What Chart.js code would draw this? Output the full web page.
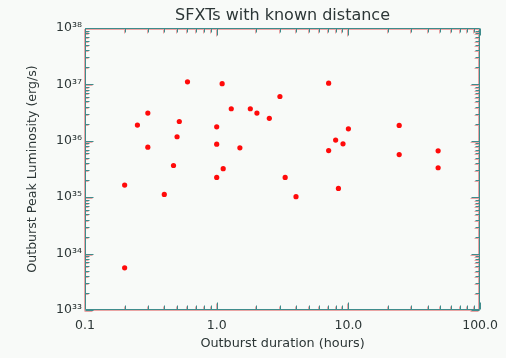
<!DOCTYPE html>
<html>
<head>
<meta charset="utf-8">
<script src="https://cdn.jsdelivr.net/npm/chart.js@4.4.0/dist/chart.umd.min.js"></script>
<style>
  html, body { margin: 0; padding: 0; background: #f8faf8; }
  #wrap { width: 506px; height: 358px; }
</style>
</head>
<body>
<div id="wrap"><canvas id="c" width="506" height="358"></canvas></div>
<script>
// ---- data ----
const durations = [0.60, 1.10, 3.02, 0.30, 1.29, 1.80, 2.02, 2.51, 0.25, 0.52, 1.00, 0.50, 1.00, 0.30, 1.50, 0.47, 1.12, 1.00, 3.31, 0.20, 0.40, 4.00, 7.08, 10.0, 24.3, 8.0, 9.1, 7.08, 24.3, 48.0, 48.0, 8.4, 0.20];
const luminosities = [1.11e37, 1.03e37, 6.1e36, 3.1e36, 3.7e36, 3.7e36, 3.1e36, 2.5e36, 1.9e36, 2.2e36, 1.77e36, 1.18e36, 8.7e35, 7.7e35, 7.5e35, 3.65e35, 3.2e35, 2.24e35, 2.24e35, 1.64e35, 1.12e35, 1.02e35, 1.05e37, 1.63e36, 1.87e36, 1.03e36, 8.85e35, 6.7e35, 5.7e35, 6.65e35, 3.33e35, 1.43e35, 5.6e33];
const xTickValues = [0.1, 1, 10, 100];
const xTickLabels = ['0.1', '1.0', '10.0', '100.0'];
const yTickValues = [1e33, 1e34, 1e35, 1e36, 1e37, 1e38];
const yTickLabels = ['10³³', '10³⁴', '10³⁵', '10³⁶', '10³⁷', '10³⁸'];
const titleText = 'SFXTs with known distance';
const xTitle = 'Outburst duration (hours)';
const yTitle = 'Outburst Peak Luminosity (erg/s)';

const axisColor = '#3f8c8c';
const shadowColor = '#eaa4a4';
const textColor = '#2c3636';
const fam = "'DejaVu Sans', sans-serif";

// inward IDL-style ticks on all four sides, positioned by the chart's scales
const idlTicks = {
  id: 'idlTicks',
  afterDraw(chart) {
    const { ctx, chartArea: { left, right, top, bottom }, scales: { x, y } } = chart;
    const minorVals = (min, max) => {
      const out = [];
      for (let e = Math.floor(Math.log10(min)); e <= Math.ceil(Math.log10(max)); e++) {
        for (let s = 1; s <= 9; s++) {
          const v = s * Math.pow(10, e);
          if (v >= min * 0.999999 && v <= max * 1.000001) out.push({ v, major: s === 1 });
        }
      }
      return out;
    };
    const L = Math.round(left) + 0.5, R = Math.round(right) - 0.5;
    const T = Math.round(top) + 0.5, B = Math.round(bottom) - 0.5;
    const buildPath = () => {
      ctx.beginPath();
      ctx.rect(L, T, R - L, B - T);
      for (const t of minorVals(x.min, x.max)) {
        const px = Math.round(x.getPixelForValue(t.v)) + 0.5;
        const len = t.major ? 7 : 4;
        ctx.moveTo(px, B); ctx.lineTo(px, B - len);
        ctx.moveTo(px, T); ctx.lineTo(px, T + len);
      }
      for (const t of minorVals(y.min, y.max)) {
        const py = Math.round(y.getPixelForValue(t.v)) + 0.5;
        const len = t.major ? 8 : 4;
        ctx.moveTo(L, py); ctx.lineTo(L + len, py);
        ctx.moveTo(R, py); ctx.lineTo(R - len, py);
      }
    };
    ctx.save();
    ctx.lineWidth = 1;
    ctx.translate(-1, 1);
    buildPath();
    ctx.strokeStyle = shadowColor;
    ctx.stroke();
    ctx.restore();
    ctx.save();
    ctx.lineWidth = 1;
    buildPath();
    ctx.strokeStyle = axisColor;
    ctx.stroke();
    ctx.restore();
  }
};

new Chart(document.getElementById('c'), {
  type: 'scatter',
  data: {
    datasets: [{
      data: durations.map((d, i) => ({ x: d, y: luminosities[i] })),
      backgroundColor: '#ff0a0a',
      borderColor: '#ff0a0a',
      borderWidth: 0,
      pointRadius: 2.6,
      pointStyle: 'circle'
    }]
  },
  options: {
    responsive: false,
    animation: false,
    layout: { padding: { left: 0, right: 21, top: 0, bottom: 0 } },
    plugins: {
      legend: { display: false },
      tooltip: { enabled: false },
      title: {
        display: true, text: titleText, fullSize: false, color: textColor,
        font: { family: fam, size: 16, weight: 'normal' },
        padding: { top: 6, bottom: 2.8 }
      }
    },
    scales: {
      x: {
        type: 'logarithmic', min: 0.1, max: 100,
        afterBuildTicks: s => { s.ticks = xTickValues.map(v => ({ value: v })); },
        afterFit: s => { s.height = 48; },
        grid: { display: false, drawTicks: false },
        border: { display: false },
        ticks: {
          autoSkip: false, maxRotation: 0, padding: 8, color: textColor,
          font: { family: fam, size: 12.5 },
          callback: (v, i) => xTickLabels[i]
        },
        title: {
          display: true, text: xTitle, color: textColor,
          font: { family: fam, size: 12.8 }, padding: { top: 0, bottom: 7 }
        }
      },
      y: {
        type: 'logarithmic', min: 1e33, max: 1e38,
        afterBuildTicks: s => { s.ticks = yTickValues.map(v => ({ value: v })); },
        afterFit: s => { s.width = 85; },
        grid: { display: false, drawTicks: false },
        border: { display: false },
        ticks: {
          autoSkip: false, padding: 3, color: textColor,
          font: { family: fam, size: 12.5 },
          callback: (v, i) => yTickLabels[i]
        },
        title: {
          display: true, text: yTitle, color: textColor,
          font: { family: fam, size: 12.6 }, padding: { top: 25, bottom: 0 }
        }
      }
    }
  },
  plugins: [idlTicks]
});
</script>
</body>
</html>
